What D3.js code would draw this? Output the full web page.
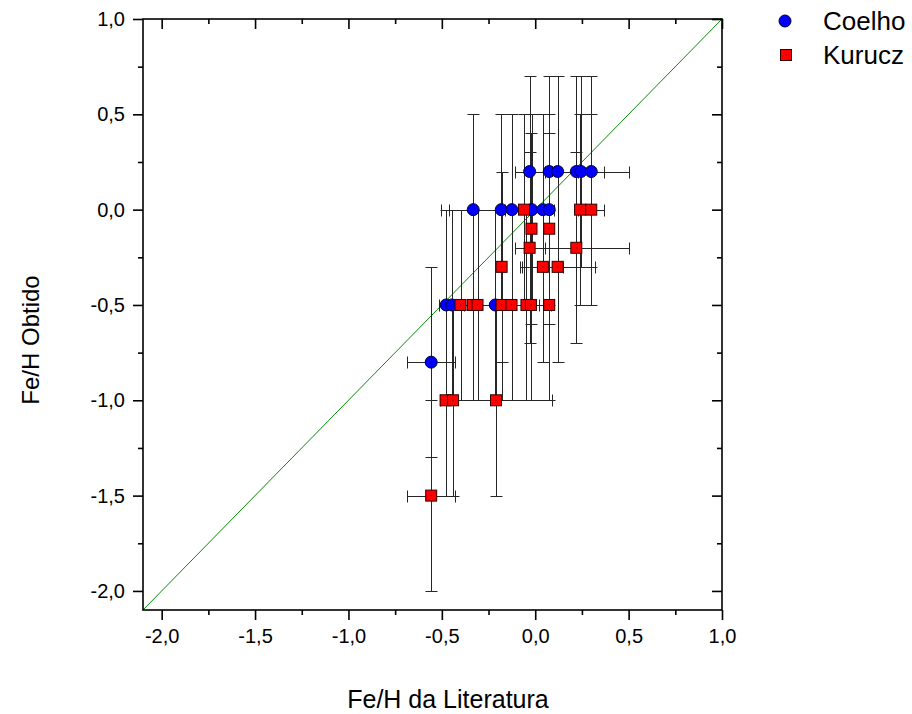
<!DOCTYPE html>
<html>
<head>
<meta charset="utf-8">
<script src="https://cdn.jsdelivr.net/npm/d3@7/dist/d3.min.js"></script>
<style>
  html, body { margin: 0; padding: 0; background: #fff; }
  svg { display: block; font-family: Arial, "Liberation Sans", Helvetica, sans-serif; }
</style>
</head>
<body>
<svg id="chart" width="912" height="714"></svg>
<script>
// Literature [Fe/H] vs. [Fe/H] obtained with the Coelho and Kurucz model grids
const coelhoX    = [-0.557, -0.477, -0.446, -0.214, -0.332, -0.182, -0.125, -0.018, 0.041, 0.075, -0.03, 0.075, 0.12, 0.22, 0.245, 0.30];
const coelhoY    = [-0.8, -0.5, -0.5, -0.5, 0.0, 0.0, 0.0, 0.0, 0.0, 0.0, 0.2, 0.2, 0.2, 0.2, 0.2, 0.2];
const coelhoXErr = [0.13, 0, 0, 0.30, 0.17, 0.28, 0, 0, 0, 0, 0.08, 0, 0, 0.28, 0, 0.07];
const coelhoYErr = [0.5, 0.5, 0.5, 0.5, 0.5, 0.5, 0.5, 0.5, 0.5, 0.5, 0.5, 0.5, 0.5, 0.5, 0.5, 0.5];

const kuruczX    = [-0.557, -0.48, -0.44, -0.21, -0.40, -0.334, -0.309, -0.18, -0.127, -0.047, -0.023, 0.075, -0.18, 0.041, 0.12, -0.03, 0.22, -0.02, 0.075, -0.06, 0.24, 0.30];
const kuruczY    = [-1.5, -1.0, -1.0, -1.0, -0.5, -0.5, -0.5, -0.5, -0.5, -0.5, -0.5, -0.5, -0.3, -0.3, -0.3, -0.2, -0.2, -0.1, -0.1, 0.0, 0.0, 0.0];
const kuruczXErr = [0.13, 0, 0, 0.30, 0, 0, 0, 0.2, 0, 0, 0, 0, 0, 0.11, 0.2, 0.08, 0.28, 0, 0, 0, 0, 0.07];
const kuruczYErr = [0.5, 0.5, 0.5, 0.5, 0.5, 0.5, 0.5, 0.5, 0.5, 0.5, 0.5, 0.5, 0.5, 0.5, 0.5, 0.5, 0.5, 0.5, 0.5, 0.5, 0.5, 0.5];

const xDomain = [-2.1, 1.0];
const yDomain = [-2.1, 1.0];
const majorTicks = [-2.0, -1.5, -1.0, -0.5, 0.0, 0.5, 1.0];
const minorTicks = [-1.75, -1.25, -0.75, -0.25, 0.25, 0.75];
const seriesNames = ["Coelho", "Kurucz"];
const xTitle = "Fe/H da Literatura";
const yTitle = "Fe/H Obtido";

const svg = d3.select("#chart");
const plotLeft = 143, plotRight = 722, plotTop = 19, plotBottom = 610;

const x = d3.scaleLinear().domain(xDomain).range([plotLeft, plotRight]);
const y = d3.scaleLinear().domain(yDomain).range([plotBottom, plotTop]);
const fmt = v => d3.format(".1f")(v).replace(".", ",").replace("−", "-");

// identity line
svg.append("defs").append("clipPath").attr("id", "plotClip")
  .append("rect").attr("x", plotLeft).attr("y", plotTop)
  .attr("width", plotRight - plotLeft).attr("height", plotBottom - plotTop);
svg.append("line")
  .attr("clip-path", "url(#plotClip)")
  .attr("x1", x(xDomain[0])).attr("y1", y(yDomain[0]))
  .attr("x2", x(xDomain[1])).attr("y2", y(yDomain[1]))
  .attr("stroke", "#0a8a0a").attr("stroke-width", 1);

// error bars
function errorBars(xs, ys, xe, ye) {
  const g = svg.append("g").attr("stroke", "#262626").attr("stroke-width", 1).attr("fill", "none");
  const cap = 6;
  xs.forEach((xv, i) => {
    const cx = Math.round(x(xv)) + 0.5;
    const yLo = Math.round(y(ys[i] - ye[i])) + 0.5, yHi = Math.round(y(ys[i] + ye[i])) + 0.5;
    g.append("line").attr("x1", cx).attr("x2", cx).attr("y1", yLo).attr("y2", yHi);
    g.append("line").attr("x1", cx - cap).attr("x2", cx + cap).attr("y1", yLo).attr("y2", yLo);
    g.append("line").attr("x1", cx - cap).attr("x2", cx + cap).attr("y1", yHi).attr("y2", yHi);
    if (xe[i] > 0) {
      const cy = Math.round(y(ys[i])) + 0.5;
      const xLo = Math.round(x(xv - xe[i])) + 0.5, xHi = Math.round(x(xv + xe[i])) + 0.5;
      g.append("line").attr("x1", xLo).attr("x2", xHi).attr("y1", cy).attr("y2", cy);
      g.append("line").attr("x1", xLo).attr("x2", xLo).attr("y1", cy - cap).attr("y2", cy + cap);
      g.append("line").attr("x1", xHi).attr("x2", xHi).attr("y1", cy - cap).attr("y2", cy + cap);
    }
  });
}
errorBars(coelhoX, coelhoY, coelhoXErr, coelhoYErr);
errorBars(kuruczX, kuruczY, kuruczXErr, kuruczYErr);

// markers
function circleMark(g, cx, cy) {
  g.append("circle").attr("cx", cx).attr("cy", cy).attr("r", 6)
    .attr("fill", "#0000ff").attr("stroke", "#000033").attr("stroke-width", 1);
  g.append("rect").attr("x", cx - 0.5).attr("y", cy - 0.5).attr("width", 1).attr("height", 1).attr("fill", "#000033");
}
function squareMark(g, cx, cy) {
  g.append("rect").attr("x", cx - 5.5).attr("y", cy - 5.5).attr("width", 11).attr("height", 11)
    .attr("fill", "#ff0000").attr("stroke", "#330000").attr("stroke-width", 1);
  g.append("rect").attr("x", cx - 0.5).attr("y", cy - 0.5).attr("width", 1).attr("height", 1).attr("fill", "#330000");
}
const gC = svg.append("g");
coelhoX.forEach((xv, i) => circleMark(gC, x(xv), y(coelhoY[i])));
const gK = svg.append("g");
kuruczX.forEach((xv, i) => squareMark(gK, x(xv), y(kuruczY[i])));

// frame and axes
const axisStroke = 1.6;
svg.append("rect").attr("x", plotLeft).attr("y", plotTop)
  .attr("width", plotRight - plotLeft).attr("height", plotBottom - plotTop)
  .attr("fill", "none").attr("stroke", "#000").attr("stroke-width", axisStroke);

function styleAxis(g) {
  g.select(".domain").remove();
  g.selectAll(".tick line").attr("stroke", "#000").attr("stroke-width", axisStroke);
  g.selectAll(".tick text").attr("fill", "#000").attr("font-size", 20)
    .attr("font-family", "Arial, 'Liberation Sans', sans-serif");
}
// bottom
svg.append("g").attr("transform", `translate(0,${plotBottom})`)
  .call(d3.axisBottom(x).tickValues(majorTicks).tickSize(10).tickPadding(9).tickFormat(fmt)).call(styleAxis);
svg.append("g").attr("transform", `translate(0,${plotBottom})`)
  .call(d3.axisBottom(x).tickValues(minorTicks).tickSize(5).tickFormat("")).call(styleAxis);
// left
svg.append("g").attr("transform", `translate(${plotLeft},0)`)
  .call(d3.axisLeft(y).tickValues(majorTicks).tickSize(10).tickPadding(8).tickFormat(fmt)).call(styleAxis);
svg.append("g").attr("transform", `translate(${plotLeft},0)`)
  .call(d3.axisLeft(y).tickValues(minorTicks).tickSize(5).tickFormat("")).call(styleAxis);
// top (inward)
svg.append("g").attr("transform", `translate(0,${plotTop})`)
  .call(d3.axisBottom(x).tickValues(majorTicks).tickSize(10).tickFormat("")).call(styleAxis);
svg.append("g").attr("transform", `translate(0,${plotTop})`)
  .call(d3.axisBottom(x).tickValues(minorTicks).tickSize(5).tickFormat("")).call(styleAxis);
// right (inward)
svg.append("g").attr("transform", `translate(${plotRight},0)`)
  .call(d3.axisLeft(y).tickValues(majorTicks).tickSize(10).tickFormat("")).call(styleAxis);
svg.append("g").attr("transform", `translate(${plotRight},0)`)
  .call(d3.axisLeft(y).tickValues(minorTicks).tickSize(5).tickFormat("")).call(styleAxis);

// axis titles
svg.append("text").attr("x", 448).attr("y", 708).attr("text-anchor", "middle")
  .attr("font-size", 25).attr("fill", "#000").text(xTitle);
svg.append("text").attr("transform", "translate(39,340) rotate(-90)")
  .attr("text-anchor", "middle").attr("font-size", 24).attr("fill", "#000").text(yTitle);

// legend
const lg = svg.append("g");
circleMark(lg, 785, 21);
squareMark(lg, 786, 55);
lg.append("text").attr("x", 823).attr("y", 30).attr("font-size", 26).attr("fill", "#000").text(seriesNames[0]);
lg.append("text").attr("x", 823).attr("y", 64).attr("font-size", 26).attr("fill", "#000").text(seriesNames[1]);
</script>
</body>
</html>
